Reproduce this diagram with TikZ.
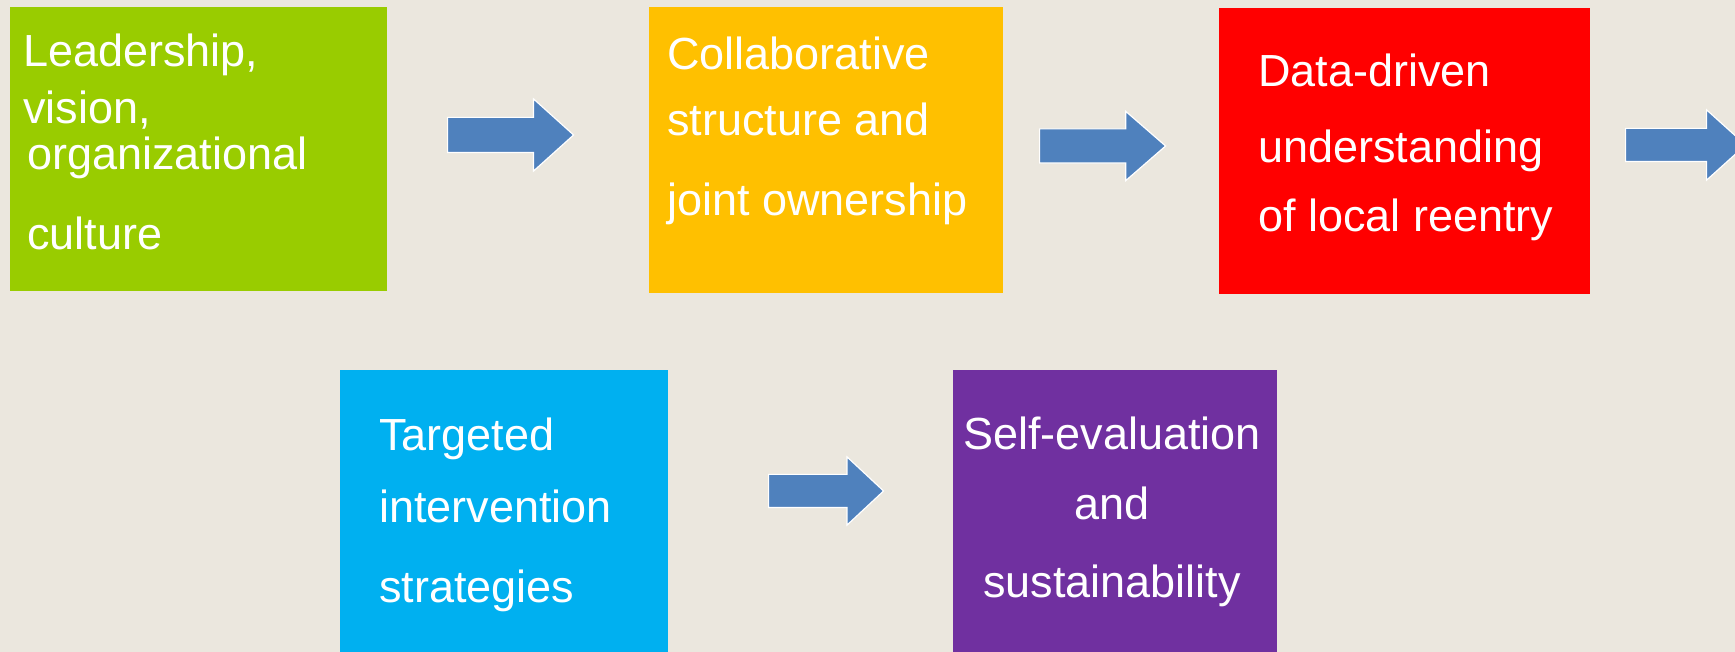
\documentclass[tikz,border=0pt]{standalone}
\usepackage{fontspec}
\setmainfont{Liberation Sans}
\usepackage{tikz}
\usetikzlibrary{shapes.arrows}
\usepackage{xcolor}
\definecolor{ColBack}{RGB}{235,231,222}
\definecolor{ColGreen}{RGB}{153,204,0}
\definecolor{ColOrange}{RGB}{255,192,0}
\definecolor{ColRed}{RGB}{255,0,0}
\definecolor{ColBlue}{RGB}{0,176,240}
\definecolor{ColPurple}{RGB}{112,48,160}
\definecolor{ColArrow}{RGB}{79,129,189}
\tikzstyle{StepBox}=[rectangle,anchor=north west,inner sep=0pt,outer sep=0pt]
\tikzstyle{StepText}=[text=white,inner sep=0pt,align=left,anchor=base west,
font=\fontsize{45}{54}\selectfont]
\tikzstyle{BlockArrow}=[single arrow,fill=ColArrow,draw=white,line width=1.2pt,
inner xsep=0pt,anchor=tail]

\begin{document}
\begin{tikzpicture}[x=1pt,y=1pt]
        \fill[ColBack](0,0)rectangle(1735,652);
        \clip(0,0)rectangle(1735,652);
        \node[StepBox,fill=ColGreen,minimum width=377pt,minimum height=284pt](lead)at(10,645){};
        \node[StepBox,fill=ColOrange,minimum width=354pt,minimum height=286pt](collab)at(649,645){};
        \node[StepBox,fill=ColRed,minimum width=371pt,minimum height=286pt](data)at(1219,644){};
        \node[StepBox,fill=ColBlue,minimum width=328pt,minimum height=290pt](target)at(340,282){};
        \node[StepBox,fill=ColPurple,minimum width=324pt,minimum height=290pt](selfeval)at(953,282){};
        % text anchored at the baseline of the last line
        \node[StepText](leadtxt)at(23,402){Leadership,\\[3pt]vision,\\[-8pt]\hspace*{4pt}organizational\\[26pt]\hspace*{4pt}culture};
        \node[StepText](collabtxt)at(667,436){Collaborative\\[12pt]structure and\\[26pt]joint ownership};
        \node[StepText](datatxt)at(1258,420){Data-driven\\[22pt]understanding\\[15pt]of local reentry};
        \node[StepText](targettxt)at(379,49){Targeted\\[18pt]intervention\\[26pt]strategies};
        \node[StepText,align=center,anchor=base](selfevaltxt)at(1112,54){Self-evaluation\\[16pt]and\\[24pt]sustainability};
        \node[BlockArrow,minimum height=126pt,inner ysep=17pt,single arrow head extend=18.5pt,
            single arrow tip angle=84](arrA)at(447,517){};
        \node[BlockArrow,minimum height=126pt,inner ysep=16.5pt,single arrow head extend=17.5pt,
            single arrow tip angle=82](arrB)at(1039,506){};
        \node[BlockArrow,minimum height=120pt,inner ysep=16pt,single arrow head extend=18.5pt,
            single arrow tip angle=84](arrC)at(1625,507){};
        \node[BlockArrow,minimum height=115pt,inner ysep=16pt,single arrow head extend=17.5pt,
            single arrow tip angle=86](arrD)at(768,161){};
    \end{tikzpicture}
\end{document}
